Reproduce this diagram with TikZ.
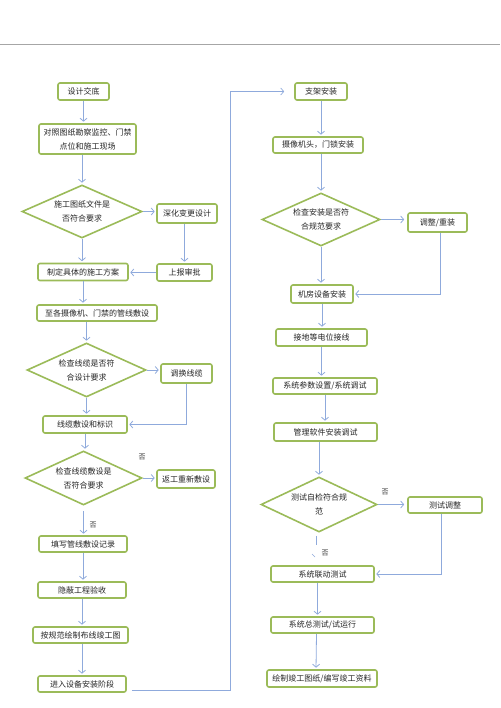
\documentclass[tikz,border=0pt]{standalone}
\usepackage{fontspec}
\usepackage{xcolor}
\usepackage{tikz}
\newfontfamily\cjk{Noto Sans CJK SC}
\usetikzlibrary{arrows.meta, shapes.geometric, calc}
\definecolor{boxgreen}{HTML}{9BBB59}
\definecolor{linkblue}{HTML}{8FAADC}

\begin{document}
\begin{tikzpicture}[x=1pt, y=-1pt,
    proc/.style={draw=boxgreen, line width=1.6pt, rounded corners=2pt,
        fill=white, inner sep=1pt, minimum height=17pt, align=center,
        font=\cjk\fontsize{8}{14}\selectfont, text=black!85},
    check/.style={proc, shape=diamond, aspect=2.2, rounded corners=0pt,
        inner sep=0pt},
    wire/.style={linkblue, line width=0.8pt},
    arr/.style={wire, -{Straight Barb[length=3pt, width=7pt]},
        shorten >=1.5pt},
    tag/.style={font=\cjk\fontsize{7}{8}\selectfont, text=black!80},
]
    \useasboundingbox (0,0) rectangle (500,708);
    \draw[gray!70, line width=1pt] (0,45) -- (500,45);

    % Left column: cabling
    \node[proc, minimum width=51pt] (n1) at (83.5,91.5) {设计交底};
    \node[proc, minimum width=97pt, minimum height=30pt] (n2) at (87.5,139)
        {对照图纸勘察监控、门禁\\点位和施工现场};
    \node[check, minimum width=120pt, minimum height=53pt] (d1) at (82,211.5)
        {施工图纸文件是\\否符合要求};
    \node[proc, minimum width=60pt, minimum height=19pt] (n3) at (187,213.5)
        {深化变更设计};
    \node[proc, minimum width=55pt] (n4) at (184.5,272.5) {上报审批};
    \node[proc, minimum width=90pt] (n5) at (83,272) {制定具体的施工方案};
    \node[proc, minimum width=120pt, minimum height=16pt] (n6) at (97,313)
        {至各摄像机、门禁的管线敷设};
    \node[check, minimum width=119pt, minimum height=54pt] (d2) at (86.5,370)
        {检查线缆是否符\\合设计要求};
    \node[proc, minimum width=51pt, minimum height=19pt] (n7) at (186.5,373.5)
        {调换线缆};
    \node[proc, minimum width=84pt] (n8) at (85,424.5) {线缆敷设和标识};
    \node[check, minimum width=117pt, minimum height=54pt] (d3) at (83.5,478)
        {检查线缆敷设是\\否符合要求};
    \node[proc, minimum width=58pt, minimum height=18pt] (n9) at (186,479)
        {返工重新敷设};
    \node[proc, minimum width=88pt, minimum height=16pt] (n10) at (83,544)
        {填写管线敷设记录};
    \node[proc, minimum width=88pt, minimum height=16pt] (n11) at (82,590)
        {隐蔽工程验收};
    \node[proc, minimum width=95pt, minimum height=16pt] (n12) at (80.5,635)
        {按规范绘制布线竣工图};
    \node[proc, minimum width=88pt, minimum height=16pt] (n13) at (82,684)
        {进入设备安装阶段};

    % Right column: installation
    \node[proc, minimum width=52pt] (m1) at (321,91.5) {支架安装};
    \node[proc, minimum width=90pt, minimum height=16pt] (m2) at (318,145)
        {摄像机头，门锁安装};
    \node[check, minimum width=118pt, minimum height=53pt] (d4) at (321,219.5)
        {检查安装是否符\\合规范要求};
    \node[proc, minimum width=59pt, minimum height=19pt] (m3) at (437.5,222.5)
        {调整/重装};
    \node[proc, minimum width=62pt, minimum height=18pt] (m4) at (322,294)
        {机房设备安装};
    \node[proc, minimum width=91pt] (m5) at (321.5,337.5) {接地等电位接线};
    \node[proc, minimum width=104pt, minimum height=16pt] (m6) at (325,386)
        {系统参数设置/系统调试};
    \node[proc, minimum width=103pt, minimum height=18pt] (m7) at (325.5,432)
        {管理软件安装调试};
    \node[check, minimum width=116pt, minimum height=55pt] (d5) at (319,504.5)
        {测试自检符合规\\范};
    \node[proc, minimum width=74pt, minimum height=16pt] (m8) at (445,505)
        {测试调整};
    \node[proc, minimum width=103pt, minimum height=16pt] (m9) at (322.5,574)
        {系统联动测试};
    \node[proc, minimum width=103pt, minimum height=16pt] (m10) at (322.5,625)
        {系统总测试/试运行};
    \node[proc, minimum width=110pt] (m11) at (322,678.5)
        {绘制竣工图纸/编写竣工资料};

    % Labels
    \node[tag] (no1) at (142,457) {否};
    \node[tag] (no2) at (93,525) {否};
    \node[tag] (no3) at (385,492) {否};
    \node[tag] (no4) at (325,553) {否};

    % Left links
    \draw[arr] (n1.south) -- (n1.south |- n2.north);
    \draw[arr] (d1.north |- n2.south) -- (d1.north);
    \draw[arr] (d1.east) -- (d1.east -| n3.west);
    \draw[arr] (n4.north |- n3.south) -- (n4.north);
    \draw[arr] (n4.west) -- (n4.west -| n5.east);
    \draw[arr] (d1.south) -- (d1.south |- n5.north);
    \draw[arr] (n5.south) -- (n5.south |- n6.north);
    \draw[arr] (d2.north |- n6.south) -- (d2.north);
    \draw[arr] (d2.east) -- (d2.east -| n7.west);
    \draw[arr] (n7.south) |- (n8.east);
    \draw[arr] (d2.south) -- (d2.south |- n8.north);
    \draw[arr] (n8.south) -- (n8.south |- d3.north);
    \draw[arr] (d3.east) -- (d3.east -| n9.west);
    \draw[arr, shorten <=5pt] (d3.south) -- (d3.south |- n10.north);
    \draw[arr] (n10.south) -- (n10.south |- n11.north);
    \draw[arr] (n11.south) -- (n11.south |- n12.north);
    \draw[arr] (n13.north |- n12.south) -- (n13.north);

    % Across to the right column
    \coordinate (riser) at (230,0);
    \draw[arr, line width=0.7pt, shorten <=5pt, shorten >=10pt]
        ([yshift=-6pt]n13.east) -| (riser |- m1.west) -- (m1.west);

    % Right links
    \draw[arr] (m1.south) -- (m1.south |- m2.north);
    \draw[arr] (d4.north |- m2.south) -- (d4.north);
    \draw[arr, shorten >=3pt] (d4.east) -- (d4.east -| m3.west);
    \draw[arr] ([xshift=2.5pt]m3.south) |- (m4.east);
    \draw[arr] (d4.south) -- (d4.south |- m4.north);
    \draw[arr] (m4.south) -- (m4.south |- m5.north);
    \draw[arr] (m5.south) -- (m5.south |- m6.north);
    \draw[arr] (m6.south) -- (m6.south |- m7.north);
    \draw[arr] (d5.north |- m7.south) -- (d5.north);
    \draw[arr, shorten >=3pt] (d5.east) -- (d5.east -| m8.west);
    \draw[arr] ([xshift=-4pt]m8.south) |- (m9.east);
    \coordinate (stub) at (316,545);
    \draw[wire, shorten <=3pt] (stub |- d5.south) -- (stub);
    \draw[wire, line width=0.5pt] (312,554) -- (315,557);
    \draw[arr] ([xshift=-5pt]m9.south) -- ([xshift=-5pt]m10.north);
    \draw[arr] ([xshift=-6pt]m10.south) -- ([xshift=-6pt]m11.north);
\end{tikzpicture}
\end{document}
